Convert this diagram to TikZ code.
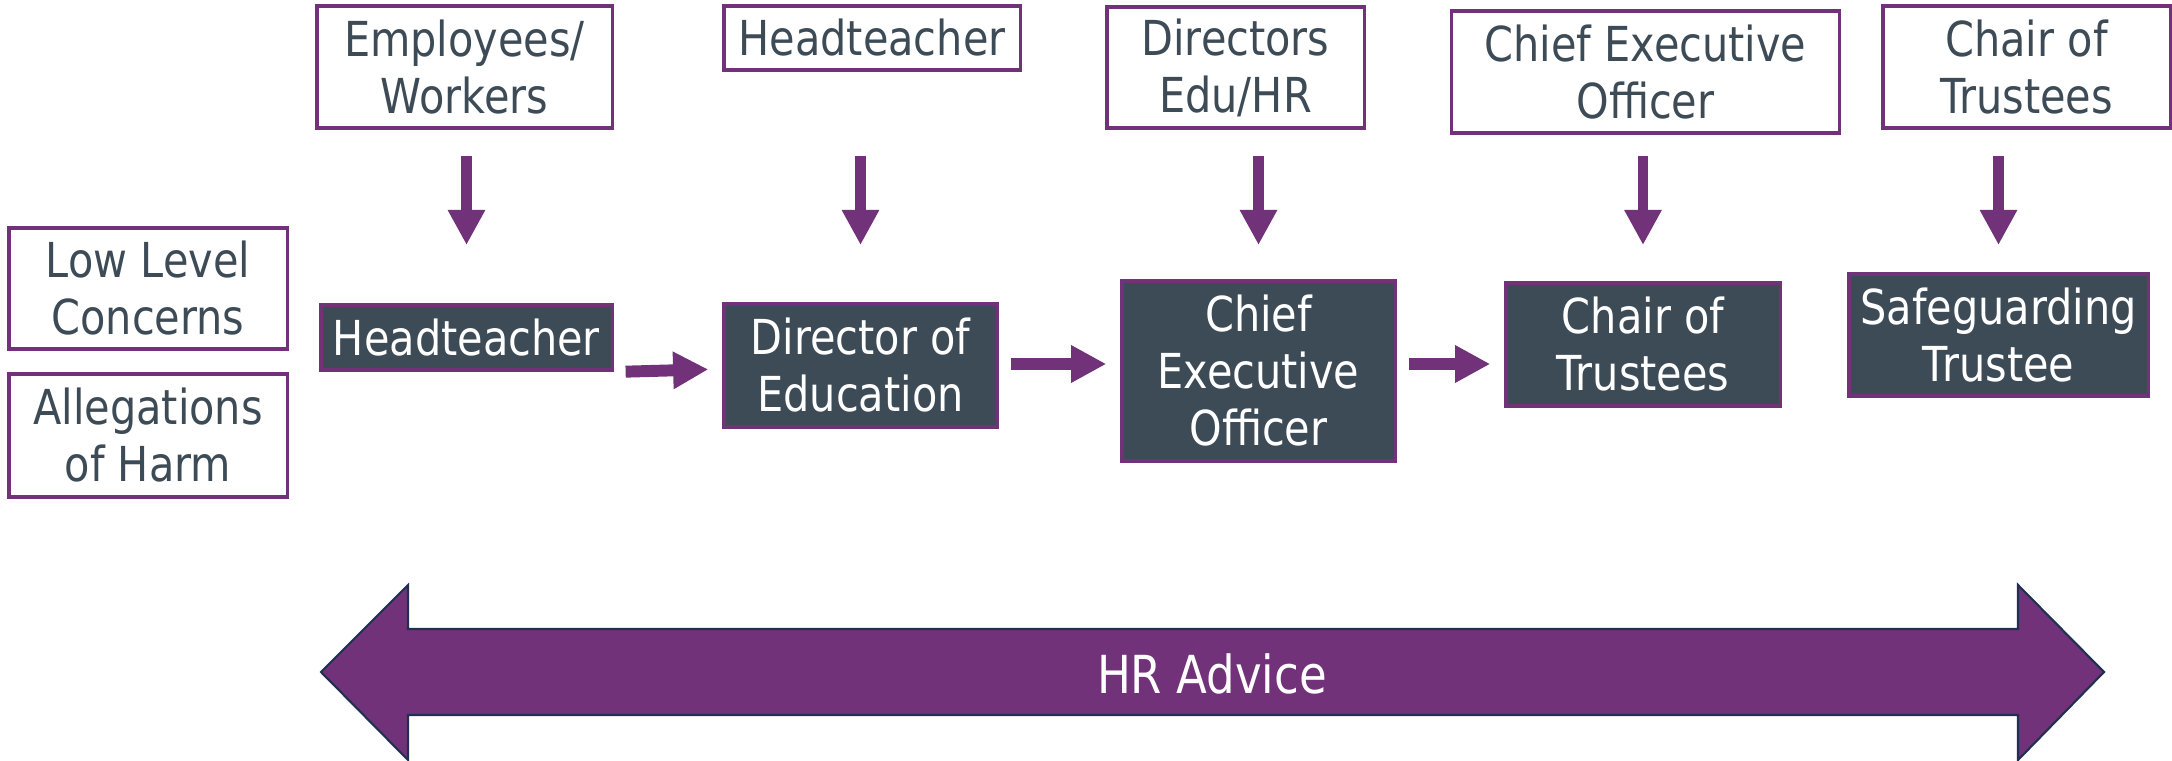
\documentclass[tikz,border=0pt]{standalone}
\usepackage{fontspec}
\setmainfont{DejaVu Sans}[FakeStretch=0.86]
\usetikzlibrary{arrows.meta}
\definecolor{plum}{HTML}{72327A}
\definecolor{slate}{HTML}{3D4B57}
\definecolor{navy}{HTML}{203050}

\begin{document}
\begin{tikzpicture}[x=0.01cm, y=-0.01cm]
%define
\tikzstyle{box_white} = [rectangle, draw=plum, line width=0.9pt, fill=white, text=slate, align=center, inner sep=0pt, font=\fontsize{13.7}{16.2}\selectfont]
\tikzstyle{box_dark} = [box_white, fill=slate, text=white]
\tikzstyle{arrow_down} = [plum, line width=3.1pt, -{Triangle[length=10pt, width=10pt]}]
\tikzstyle{arrow_side} = [plum, line width=3.4pt, -{Triangle[length=10pt, width=10pt]}, shorten <=3.4pt, shorten >=4pt]

\useasboundingbox (0,0) rectangle (2172,761);

%concerns
\node[box_white, minimum width=2.78cm, minimum height=1.21cm] (low) at (148,288.5) {Low Level\\Concerns};
\node[box_white, minimum width=2.78cm, minimum height=1.23cm] (harm) at (148,435.5) {Allegations\\of Harm};

%who is concerned
\node[box_white, minimum width=2.95cm, minimum height=1.22cm] (src_workers) at (464.5,67) {Employees/\\Workers};
\node[box_white, minimum width=2.96cm, minimum height=0.64cm] (src_head) at (872,38) {Headteacher};
\node[box_white, minimum width=2.57cm, minimum height=1.21cm] (src_dirs) at (1235.5,67.5) {Directors\\Edu/HR};
\node[box_white, minimum width=3.87cm, minimum height=1.22cm] (src_ceo) at (1645.5,72) {Chief Executive\\Officer};
\node[box_white, minimum width=2.87cm, minimum height=1.22cm] (src_chair) at (2026.5,67) {Chair of\\Trustees};

%who to report to
\node[box_dark, minimum width=2.91cm, minimum height=0.65cm] (ht) at (466.5,337.5) {Headteacher};
\node[box_dark, minimum width=2.73cm, minimum height=1.23cm] (doe) at (860.5,365.5) {Director of\\Education};
\node[box_dark, minimum width=2.73cm, minimum height=1.80cm] (ceo) at (1258.5,371) {Chief\\Executive\\Officer};
\node[box_dark, minimum width=2.74cm, minimum height=1.23cm] (chair) at (1643,344.5) {Chair of\\Trustees};
\node[box_dark, minimum width=2.99cm, minimum height=1.22cm] (safe) at (1998.5,335) {Safeguarding\\Trustee};

%arrows
\coordinate (upper) at (0,156);
\coordinate (lower) at (0,245);
\coordinate (mid) at (0,364);
\draw[arrow_down] (upper -| ht) -- (lower -| ht); %Employees->Headteacher
\draw[arrow_down] (upper -| doe) -- (lower -| doe); %Headteacher->Director
\draw[arrow_down] (upper -| ceo) -- (lower -| ceo); %Directors->CEO
\draw[arrow_down] (upper -| chair) -- (lower -| chair); %CEO->Chair
\draw[arrow_down] (upper -| safe) -- (lower -| safe); %Chair->Safeguarding
\draw[arrow_side] (ht.east |- 0,372) -- (doe.west |- 0,369);
\draw[arrow_side] (doe.east |- mid) -- (ceo.west |- mid);
\draw[arrow_side] (ceo.east |- mid) -- (chair.west |- mid);

%HR advice
\filldraw[fill=plum, draw=navy, line width=0.6pt] (321,672) -- (408,585) -- (408,629) -- (2018,629) -- (2018,585) -- (2104,672) -- (2018,760) -- (2018,715) -- (408,715) -- (408,760) -- cycle;
\node[text=white, font=\fontsize{14.9}{17}\selectfont] (hr) at (1212,674) {HR Advice};

\end{tikzpicture}
\end{document}
